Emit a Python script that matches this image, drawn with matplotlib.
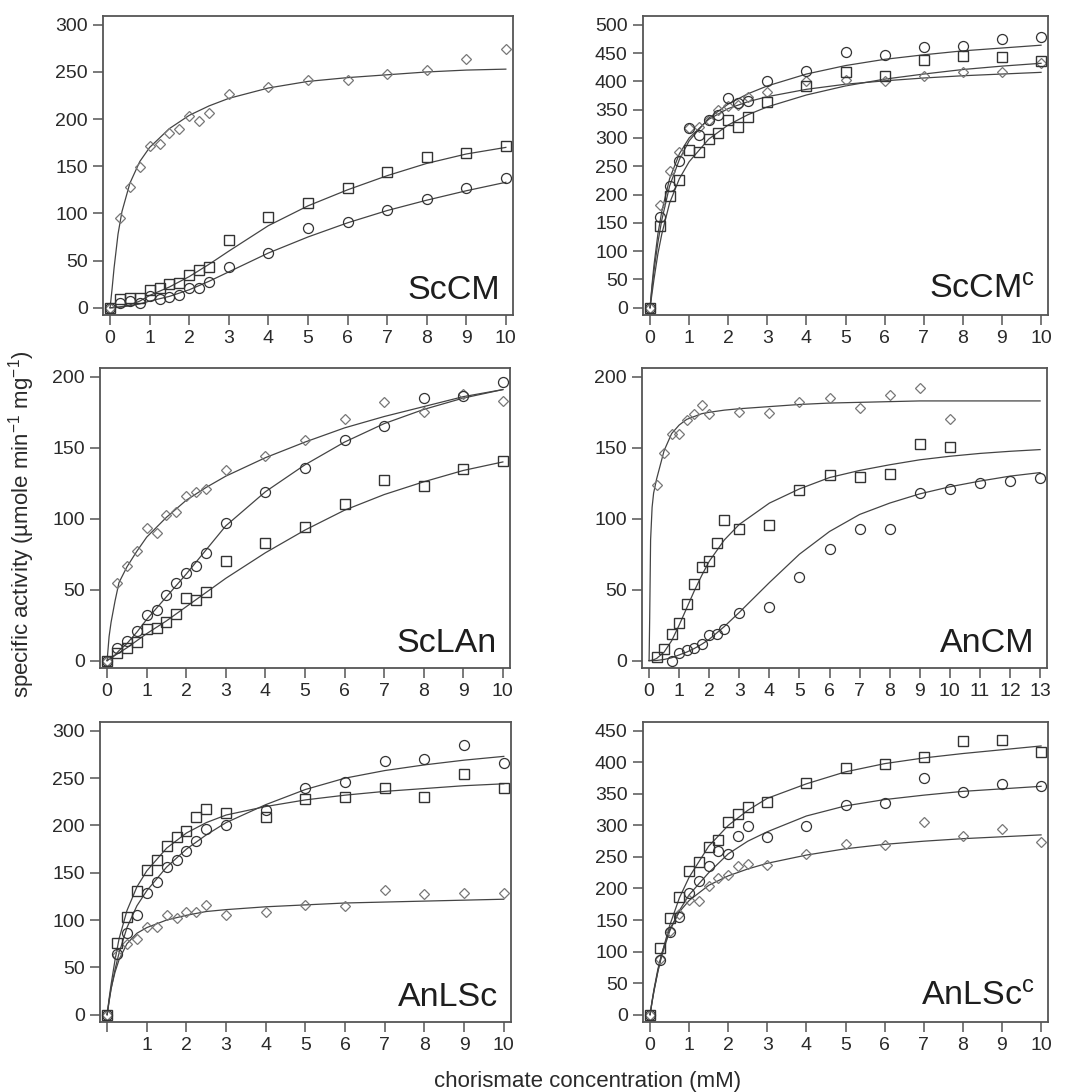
import matplotlib
matplotlib.use("Agg")
import matplotlib.pyplot as plt

plt.rcParams['font.family'] = ['Liberation Sans', 'DejaVu Sans']
plt.rcParams['mathtext.fontset'] = 'custom'
plt.rcParams['mathtext.rm'] = 'Liberation Sans'
plt.rcParams['mathtext.it'] = 'Liberation Sans:italic'

# substrate concentrations of the measured points (mM)
conc = [0, 0.25, 0.5, 0.75, 1, 1.25, 1.5, 1.75, 2, 2.25, 2.5, 3, 4, 5, 6, 7, 8, 9, 10]
fit_conc = [0, 0.05, 0.1, 0.2, 0.3, 0.5, 0.75, 1, 1.5, 2, 2.5, 3, 4, 5, 6, 7, 8, 9, 10]

# ScCM
sccm_dia = [0, 95, 128, 149, 172, 174, 185, 190, 203, 198, 206, 227, 234, 241, 242, 248, 252, 264, 274]
sccm_sq = [0, 9, 10, 10, 19, 21, 25, 26, 35, 40, 43, 72, 96, 111, 127, 144, 160, 164, 171]
sccm_circ = [0, 5, 7, 4.6, 12, 9.5, 11, 13, 21, 20.5, 27, 43, 57.5, 84, 91, 104, 115, 127, 138]
sccm_fit_dia = [0, 20, 42, 78, 102, 132, 155, 170, 190, 204, 214, 222, 233, 240, 244, 247, 250, 252, 253]
sccm_fit_sq = [0, 0, 0.2, 0.6, 1.2, 3, 7, 13, 22, 33, 46, 60, 87, 108, 125, 140, 153, 163, 170]
sccm_fit_circ = [0, 0, 0.1, 0.4, 0.8, 2, 4, 7, 12, 19, 28, 38, 58, 75, 90, 103, 114, 124, 133]

# ScCM^c
sccmc_dia = [0, 182, 241, 275, 318, 320, 332, 349, 357, 359, 373, 382, 401, 403, 401, 409, 416, 416, 433]
sccmc_sq = [0, 144, 197, 226, 279, 276, 298, 309, 332, 319, 337, 363, 392, 416, 409, 437, 445, 443, 436]
sccmc_circ = [0, 160, 215, 260, 318, 306, 331, 340, 370, 361, 365, 400, 418, 452, 447, 460, 463, 475, 478]
sccmc_fit_dia = [0, 40, 75, 130, 170, 228, 272, 300, 333, 352, 364, 373, 386, 395, 401, 406, 410, 413, 416]
sccmc_fit_sq = [0, 25, 50, 95, 130, 185, 228, 258, 298, 323, 341, 355, 376, 392, 404, 413, 421, 427, 432]
sccmc_fit_circ = [0, 35, 65, 115, 155, 215, 262, 295, 335, 360, 378, 392, 413, 428, 439, 447, 454, 459, 464]

# ScLAn
sclan_dia = [0, 54.5, 66.7, 77, 93.6, 90, 102.7, 104.8, 116, 118.8, 121, 134, 144, 155.5, 170, 182, 175.4, 188, 182.7]
sclan_sq = [0, 5.4, 9, 13, 22, 23, 27, 33, 44, 43, 48, 70, 82.6, 93.8, 110.6, 127.5, 123, 134.7, 141]
sclan_circ = [0, 8.9, 13.6, 20.6, 32, 36, 46, 55, 61.5, 66.7, 76, 97, 119, 135.7, 155.8, 165, 185, 186.7, 196.5]
sclan_fit_dia = [0, 17, 27, 42, 55, 66, 77, 87, 101, 113, 122, 130, 143, 154, 164, 172, 179, 186, 191]
sclan_fit_sq = [0, 1, 1.8, 3.7, 5.5, 9, 14, 19, 28, 38, 48, 58, 76, 92, 106, 117, 126, 134, 140]
sclan_fit_circ = [0, 1, 2, 4, 7, 12, 20, 29, 45, 61, 78, 95, 119, 138, 154, 167, 177, 185, 191]

# AnCM (own concentration range, up to 13 mM)
ancm_dia_x = [0.25, 0.5, 0.75, 1, 1.25, 1.5, 1.75, 2, 3, 4, 5, 6, 7, 8, 9, 10]
ancm_dia = [123.5, 146, 160, 159.6, 169.7, 173.6, 180, 173.6, 175.5, 174.8, 182, 185, 177.8, 187, 192, 170.4]
ancm_sq_x = [0.25, 0.5, 0.75, 1, 1.25, 1.5, 1.75, 2, 2.25, 2.5, 3, 4, 5, 6, 7, 8, 9, 10]
ancm_sq = [2.8, 8, 18.4, 26.6, 40, 54, 66, 70, 82.6, 99, 93, 95.4, 120, 130.5, 129.5, 131.6, 152.6, 150.3]
ancm_circ_x = [0.75, 1, 1.25, 1.5, 1.75, 2, 2.25, 2.5, 3, 4, 5, 6, 7, 8, 9, 10, 11, 12, 13]
ancm_circ = [0, 5.6, 7.5, 8.6, 11.7, 18, 19, 22, 33.6, 37.8, 58.8, 78.6, 93, 93, 118, 120.6, 125, 126.5, 128.8]
ancm_fit_x = [0, 0.02, 0.05, 0.1, 0.15, 0.25, 0.5, 0.75, 1, 1.25, 1.5, 1.75, 2, 2.5, 3, 4, 5, 6, 7, 8, 9, 10, 11, 12, 13]
ancm_fit_dia = [0, 30, 85, 108, 118, 128, 148, 160, 166, 170, 172, 174, 175, 176.5, 177.5, 179, 180.5, 181.5, 182, 182.5, 183, 183, 183, 183, 183]
ancm_fit_sq = [0, 0, 0.1, 0.3, 0.6, 1.5, 6, 14, 25, 37, 49, 60, 70, 85, 96, 111, 121, 129, 134, 138, 141.5, 144, 146, 147.5, 148.7]
ancm_fit_circ = [0, 0, 0, 0, 0, 0.1, 0.8, 2, 4, 6, 8.5, 11.5, 15, 24, 34, 55, 75, 91, 103, 111, 117.5, 122.5, 126.5, 130, 132.5]

# AnLSc
anlsc_dia = [0, 62.6, 75, 80, 92.5, 92.5, 105.5, 102, 109, 108, 116.4, 105.5, 109, 116.4, 114.7, 132, 127.7, 129, 129]
anlsc_sq = [0, 76, 103, 130.5, 153, 163.6, 178, 187.5, 194, 208.6, 217, 212.8, 208.6, 228, 230, 240, 230, 254, 240]
anlsc_circ = [0, 63.7, 86.5, 104.8, 128.7, 140, 155.8, 163.6, 172.7, 184, 196, 200.8, 216.7, 240, 245.5, 268, 270, 285, 265.6]
anlsc_fit_dia = [0, 15, 28, 45, 58, 75, 86, 92, 100, 105, 109, 111, 114, 116, 118, 119, 120, 121, 122]
anlsc_fit_sq = [0, 17, 32, 58, 80, 110, 135, 152, 176, 192, 203, 211, 220, 227, 232, 236, 239, 242, 244]
anlsc_fit_circ = [0, 14, 27, 48, 65, 92, 115, 131, 156, 175, 190, 203, 222, 238, 250, 258, 264, 269, 273]

# AnLSc^c
anlscc_dia = [0, 88.6, 132, 160, 181, 180, 204.7, 216, 221.6, 236, 239, 238, 254.8, 270.6, 269, 306, 282.8, 294, 273]
anlscc_sq = [0, 106, 153, 186, 228, 242.7, 265, 277, 306, 318, 329.7, 336.6, 367, 391, 398, 407.8, 434, 435.7, 415.7]
anlscc_circ = [0, 87, 131, 154.6, 193, 211.5, 236, 260, 254.8, 282.8, 299.6, 281, 299.6, 332, 335, 375, 353.5, 365.6, 363]
anlscc_fit_dia = [0, 21, 40, 72, 97, 135, 163, 181, 205, 220, 231, 240, 253, 263, 270, 275, 279, 282, 285]
anlscc_fit_sq = [0, 19, 37, 69, 96, 141, 185, 218, 267, 300, 324, 343, 366, 385, 398, 407, 414, 420, 426]
anlscc_fit_circ = [0, 20, 38, 68, 94, 132, 165, 190, 225, 255, 275, 290, 315, 331, 341, 348, 354, 358, 362]

LINE = '#444444'
DARK = '#333333'
LIGHT = '#777777'
SPINE = '#555555'


def dessinerPanneau(fig, rect, titre, xmax, ymax, fits, pts, sans_zero=False):
    ax = fig.add_axes(rect)
    fx, fd, fs, fc = fits
    for fy in (fd, fs, fc):
        ax.plot(fx, fy, color=LINE, lw=0.9, zorder=2)
    (dx, dy), (sx, sy), (cx, cy) = pts
    ax.plot(dx, dy, 'D', ms=4.6, mfc='none', mec=LIGHT, mew=0.9, zorder=3)
    ax.plot(sx, sy, 's', ms=7.0, mfc='none', mec=DARK, mew=1.0, zorder=3)
    ax.plot(cx, cy, 'o', ms=7.2, mfc='none', mec=DARK, mew=0.9, zorder=3)
    ax.set_xlim(-0.018 * xmax, 1.018 * xmax)
    ax.set_ylim(-0.026 * ymax, 1.031 * ymax)
    ax.set_xticks(range(0, xmax + 1))
    if sans_zero:
        ax.set_xticklabels([''] + [str(i) for i in range(1, xmax + 1)])
    ax.set_yticks(range(0, ymax + 1, 50))
    for s in ax.spines.values():
        s.set_color(SPINE)
        s.set_linewidth(1.3)
    ax.tick_params(direction='out', length=7, width=1.1, color=SPINE,
                   labelcolor='#2a2a2a', labelsize=14)
    ax.tick_params(axis='x', pad=4)
    ax.tick_params(axis='y', pad=4)
    ax.text(0.968, 0.03, titre, transform=ax.transAxes, ha='right', va='bottom',
            fontsize=24.5, color='#1e1e1e')
    return ax


fig = plt.figure(figsize=(10.66, 10.92), dpi=100)

dessinerPanneau(fig, [0.0966, 0.7115, 0.3846, 0.2738], 'ScCM', 10, 300,
                (fit_conc, sccm_fit_dia, sccm_fit_sq, sccm_fit_circ),
                ((conc, sccm_dia), (conc, sccm_sq), (conc, sccm_circ)))
dessinerPanneau(fig, [0.6032, 0.7115, 0.380, 0.2738], r'ScCM$^{\mathregular{c}}$', 10, 500,
                (fit_conc, sccmc_fit_dia, sccmc_fit_sq, sccmc_fit_circ),
                ((conc, sccmc_dia), (conc, sccmc_sq), (conc, sccmc_circ)))
dessinerPanneau(fig, [0.0938, 0.3883, 0.3846, 0.2747], 'ScLAn', 10, 200,
                (fit_conc, sclan_fit_dia, sclan_fit_sq, sclan_fit_circ),
                ((conc, sclan_dia), (conc, sclan_sq), (conc, sclan_circ)))
dessinerPanneau(fig, [0.6023, 0.3883, 0.380, 0.2747], 'AnCM', 13, 200,
                (ancm_fit_x, ancm_fit_dia, ancm_fit_sq, ancm_fit_circ),
                ((ancm_dia_x, ancm_dia), (ancm_sq_x, ancm_sq), (ancm_circ_x, ancm_circ)))
dessinerPanneau(fig, [0.0938, 0.0641, 0.3855, 0.2747], 'AnLSc', 10, 300,
                (fit_conc, anlsc_fit_dia, anlsc_fit_sq, anlsc_fit_circ),
                ((conc, anlsc_dia), (conc, anlsc_sq), (conc, anlsc_circ)), sans_zero=True)
dessinerPanneau(fig, [0.6032, 0.0641, 0.380, 0.2747], r'AnLSc$^{\mathregular{c}}$', 10, 450,
                (fit_conc, anlscc_fit_dia, anlscc_fit_sq, anlscc_fit_circ),
                ((conc, anlscc_dia), (conc, anlscc_sq), (conc, anlscc_circ)))

fig.text(0.551, 0.0095, 'chorismate concentration (mM)', ha='center', va='center',
         fontsize=16, color='#2a2a2a')
fig.text(0.02, 0.52, r'specific activity (µmole min$^{\mathregular{-1}}$ mg$^{\mathregular{-1}}$)',
         ha='center', va='center', rotation=90, fontsize=16, color='#2a2a2a')

fig.savefig('out.png', dpi=100)
